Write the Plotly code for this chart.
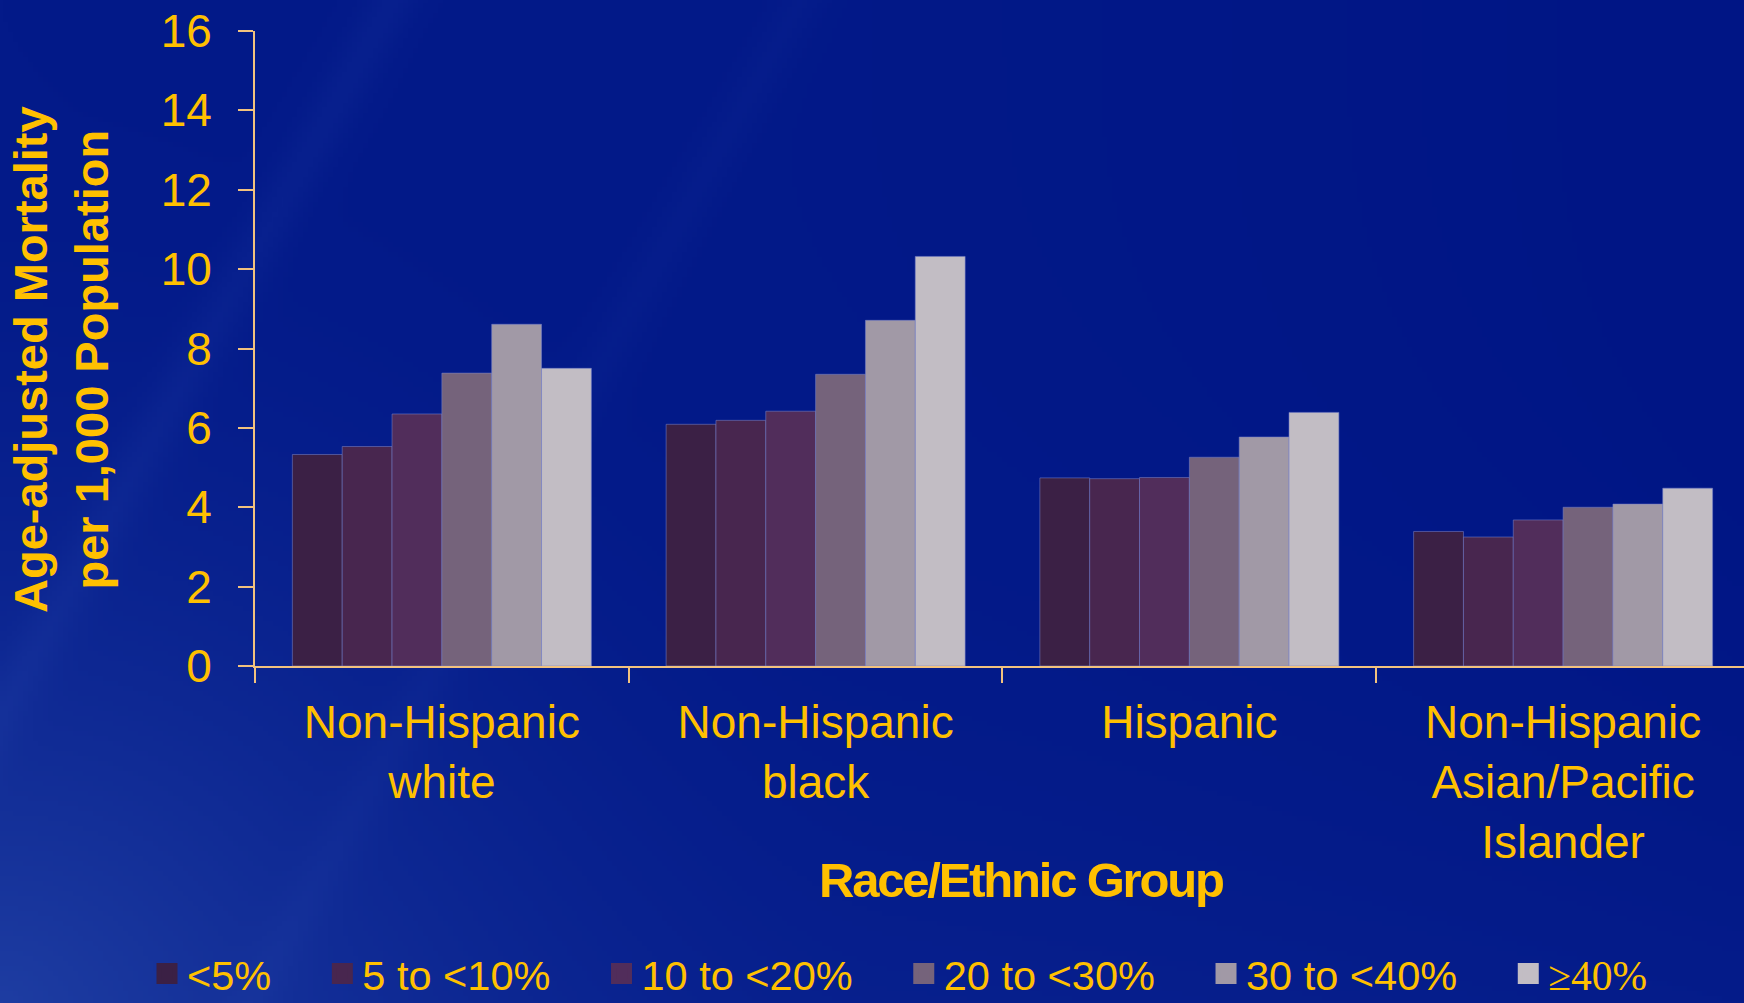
import base64
import struct
import zlib

import numpy as np
import plotly.graph_objects as go

# ---- data -------------------------------------------------------------
groups = [
    "Non-Hispanic<br>white",
    "Non-Hispanic<br>black",
    "Hispanic",
    "Non-Hispanic<br>Asian/Pacific<br>Islander",
]
poverty_bands = ["<5%", "5 to <10%", "10 to <20%", "20 to <30%", "30 to <40%", "≥40%"]

mortality_lt5 = [5.33, 6.09, 4.74, 3.39]
mortality_5_10 = [5.53, 6.19, 4.72, 3.25]
mortality_10_20 = [6.35, 6.42, 4.75, 3.68]
mortality_20_30 = [7.38, 7.35, 5.26, 4.00]
mortality_30_40 = [8.61, 8.71, 5.77, 4.08]
mortality_ge40 = [7.50, 10.32, 6.39, 4.48]

series = [mortality_lt5, mortality_5_10, mortality_10_20,
          mortality_20_30, mortality_30_40, mortality_ge40]
bar_colors = ["#3B2045", "#48264F", "#512D5B", "#75637B", "#A199A6", "#C2BDC4"]

y_ticks = [0, 2, 4, 6, 8, 10, 12, 14, 16]

# ---- styling ----------------------------------------------------------
W, H = 1744, 1003
L, R, T, B = 255, 0, 31, 337
GOLD = "#FFC000"
AXIS = "#F2C27E"
SANS = "Liberation Sans, Arial, sans-serif"


def background_uri(w=349, h=201):
    """Soft blue slide backdrop encoded as an inline PNG."""
    yy, xx = np.mgrid[0:h, 0:w].astype(float)
    fx, fy = xx / (w - 1), yy / (h - 1)
    base = np.array([3.0, 26.0, 137.0])
    img = np.zeros((h, w, 3)) + base
    # gentle glow in the lower-left corner
    d = np.sqrt((fx * W) ** 2 + ((1 - fy) * H) ** 2)
    glow = np.clip(1 - d / 900.0, 0, 1) ** 1.8
    img += glow[..., None] * np.array([22.0, 28.0, 20.0])
    # faint lighter wash along the bottom
    img += (fy ** 3)[..., None] * np.array([5.0, 7.0, 5.0])
    # slightly darker towards the right edge
    img -= (fx ** 2)[..., None] * np.array([3.0, 5.0, 4.0])
    # diagonal streaks
    for x0, x1, amt in [(390, -160, 5.0), (800, 250, 3.0)]:
        line_x = x0 + (x1 - x0) * fy
        dist = fx * W - line_x
        img += (np.exp(-(dist / 30.0) ** 2) * amt)[..., None] * np.array([1.0, 1.2, 1.0])
    arr = np.clip(img, 0, 255).astype(np.uint8)
    raw = b"".join(b"\x00" + arr[r].tobytes() for r in range(h))

    def chunk(tag, data):
        c = struct.pack(">I", len(data)) + tag + data
        return c + struct.pack(">I", zlib.crc32(tag + data) & 0xFFFFFFFF)

    png = (b"\x89PNG\r\n\x1a\n"
           + chunk(b"IHDR", struct.pack(">IIBBBBB", w, h, 8, 2, 0, 0, 0))
           + chunk(b"IDAT", zlib.compress(raw, 9))
           + chunk(b"IEND", b""))
    return "data:image/png;base64," + base64.b64encode(png).decode()


PAD = "\u00a0" * 4
legend_names = [f"{n}{PAD}" for n in poverty_bands[:-1]]
legend_names.append(
    f"<span style=\"font-family:'Liberation Serif','Times New Roman',serif\">{poverty_bands[-1]}</span>"
)

fig = go.Figure()
for i, (vals, color) in enumerate(zip(series, bar_colors)):
    fig.add_trace(go.Bar(
        x=groups, y=vals, name=poverty_bands[i],
        legendgroup=poverty_bands[i], showlegend=False,
        marker=dict(color=color, line=dict(color="rgba(120,130,200,0.55)", width=1)),
    ))
# square legend keys, one per poverty band
for i, (color, name) in enumerate(zip(bar_colors, legend_names)):
    fig.add_trace(go.Scatter(
        x=[None], y=[None], mode="markers", name=name,
        legendgroup=poverty_bands[i], showlegend=True, hoverinfo="skip",
        marker=dict(symbol="square", size=16, color=color,
                    line=dict(color=color, width=5)),
    ))

pw = W - L - R
ph = H - T - B


def px_x(p):
    return (p - L) / pw


def px_y(p):
    return (H - B - p) / ph


fig.update_layout(
    width=W, height=H,
    margin=dict(l=L, r=R, t=T, b=B, autoexpand=False),
    paper_bgcolor="#031A89",
    plot_bgcolor="rgba(0,0,0,0)",
    barmode="group", bargap=0.2, bargroupgap=0,
    font=dict(family=SANS, color=GOLD),
    showlegend=True,
    legend=dict(
        orientation="h",
        x=px_x(147), xanchor="left",
        y=px_y(940), yanchor="top",
        font=dict(size=41.5, color=GOLD, family=SANS),
        bgcolor="rgba(0,0,0,0)",
        traceorder="normal",
        itemsizing="trace",
    ),
    images=[dict(
        source=background_uri(), xref="paper", yref="paper",
        x=px_x(0), y=px_y(0), sizex=W / pw, sizey=H / ph,
        xanchor="left", yanchor="top", sizing="stretch", layer="below",
    )],
    xaxis=dict(
        type="category", range=[-0.5, 3.484],
        showline=True, linecolor=AXIS, linewidth=2,
        ticks="outside", tickson="boundaries", ticklen=15, tickwidth=2, tickcolor=AXIS,
        tickfont=dict(size=46, color=GOLD, family=SANS),
        ticklabelstandoff=15,
        showgrid=False, zeroline=False,
    ),
    yaxis=dict(
        range=[0, 16], tickvals=y_ticks,
        showline=True, linecolor=AXIS, linewidth=2,
        ticks="outside", ticklen=15, tickwidth=2, tickcolor=AXIS,
        tickfont=dict(size=46, color=GOLD, family=SANS),
        ticklabelstandoff=17,
        showgrid=False, zeroline=False,
    ),
    annotations=[
        dict(
            text="Age-adjusted Mortality<br>per 1,000 Population",
            textangle=-90, xref="paper", yref="paper",
            x=px_x(61), y=px_y(360), xanchor="center", yanchor="middle",
            showarrow=False, align="center",
            font=dict(size=47, color=GOLD, family=SANS, weight="bold"),
        ),
        dict(
            text='<span style="letter-spacing:-2.2px">Race/Ethnic Group</span>',
            xref="paper", yref="paper",
            x=px_x(1021), y=px_y(880), xanchor="center", yanchor="middle",
            showarrow=False,
            font=dict(size=49, color=GOLD, family=SANS, weight="bold"),
        ),
    ],
)

fig.write_html("out.html")
